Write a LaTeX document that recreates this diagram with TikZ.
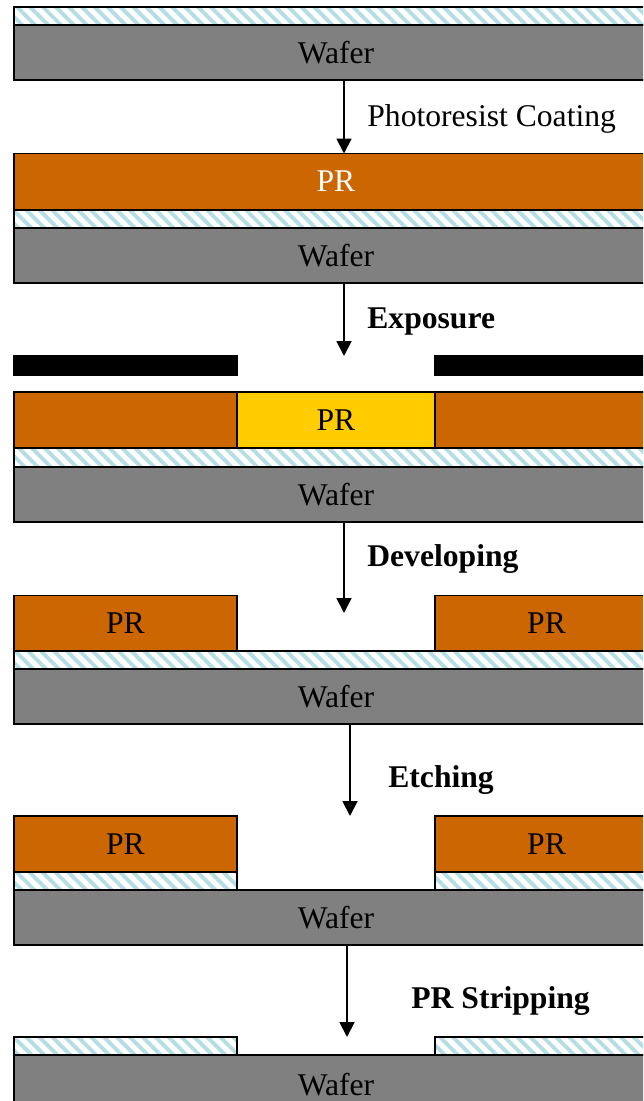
\documentclass[tikz,border=0pt]{standalone}
\usepackage{fontspec}
\setmainfont{Liberation Serif}
\usepackage{tikz}
\usetikzlibrary{calc,arrows.meta,patterns.meta}
\definecolor{prOrange}{RGB}{204,102,0}
\definecolor{prExposed}{RGB}{255,204,0}
\definecolor{filmBlue}{RGB}{180,222,228}
\definecolor{waferGray}{RGB}{128,128,128}
\newcommand\stepfont{\fontsize{18}{20}\selectfont}
\tikzstyle{layer}=[rectangle,draw=black,line width=1.1pt,inner sep=0pt,outer sep=0pt,
                   font=\stepfont]
\tikzstyle{widelayer}=[minimum width=12.88cm]
\tikzstyle{sidelayer}=[minimum width=4.46cm]
\tikzstyle{midlayer}=[minimum width=3.96cm]
\tikzstyle{wafer}=[layer,widelayer,fill=waferGray,minimum height=1.1cm]
\tikzstyle{film}=[layer,minimum height=0.36cm,pattern color=filmBlue,
                  pattern={Lines[angle=-45,distance=5.2pt,line width=2.2pt]}]
\tikzstyle{resist}=[layer,fill=prOrange,minimum height=1.12cm]
\tikzstyle{exposed}=[layer,fill=prExposed,minimum height=1.12cm]
\tikzstyle{maskbar}=[layer,fill=black,minimum height=0.38cm]
\tikzstyle{flow}=[-{Triangle[length=8.5pt,width=8.5pt]},line width=1.1pt]
\tikzstyle{steplabel}=[anchor=base west,inner sep=0pt,font=\stepfont\bfseries]

\begin{document}
\begin{tikzpicture}[x=0.02cm,y=-0.02cm]
	\useasboundingbox (0,0) rectangle (643,1101);
	\clip (0,0) rectangle (643,1101);

	% bare wafer with film
	\node [film,widelayer] (Film1) at (336,16) {};
	\node [wafer] (Wafer1) at (336,52.5) {Wafer};

	% coating
	\node [resist,widelayer,text=white] (Resist2) at (336,181.5) {PR};
	\node [film,widelayer] (Film2) at (336,219) {};
	\node [wafer] (Wafer2) at (336,255.5) {Wafer};
	\draw [flow] ($(Wafer1.south)+(8,0)$) -- ($(Resist2.north)+(8,0)$);
	\node [steplabel,font=\stepfont] (Coating) at (367,127) {Photoresist Coating};

	% exposure through the mask
	\node [maskbar,sidelayer] (MaskL) at (125.5,365.5) {};
	\node [maskbar,sidelayer] (MaskR) at (546.5,365.5) {};
	\node [resist,sidelayer] (ResistL3) at (125.5,420) {};
	\node [exposed,midlayer] (Exposed3) at (336,420) {PR};
	\node [resist,sidelayer] (ResistR3) at (546.5,420) {};
	\node [film,widelayer] (Film3) at (336,457.5) {};
	\node [wafer] (Wafer3) at (336,494.5) {Wafer};
	\draw [flow] ($(Wafer2.south)+(8,0)$) -- ($(MaskL.north -| Wafer2.south)+(8,0)$);
	\node [steplabel] (Exposure) at (367,328) {Exposure};

	% developing
	\node [resist,sidelayer] (ResistL4) at (125.5,623.5) {PR};
	\node [resist,sidelayer] (ResistR4) at (546.5,623.5) {PR};
	\node [film,widelayer] (Film4) at (336,660) {};
	\node [wafer] (Wafer4) at (336,696.5) {Wafer};
	\coordinate (DevTip) at (344,613);
	\draw [flow] ($(Wafer3.south)+(8,0)$) -- (DevTip);
	\node [steplabel] (Developing) at (367,566) {Developing};

	% etching
	\node [resist,sidelayer] (ResistL5) at (125.5,844) {PR};
	\node [resist,sidelayer] (ResistR5) at (546.5,844) {PR};
	\node [film,sidelayer] (FilmL5) at (125.5,881) {};
	\node [film,sidelayer] (FilmR5) at (546.5,881) {};
	\node [wafer] (Wafer5) at (336,917.5) {Wafer};
	\draw [flow] ($(Wafer4.south)+(14,0)$) -- ($(ResistL5.north -| Wafer4.south)+(14,0)$);
	\node [steplabel] (Etching) at (388,787) {Etching};

	% stripping
	\node [film,sidelayer] (FilmL6) at (125.5,1046) {};
	\node [film,sidelayer] (FilmR6) at (546.5,1046) {};
	\node [wafer,minimum height=1.2cm] (Wafer6) at (336,1085) {Wafer};
	\draw [flow] ($(Wafer5.south)+(11,0)$) -- ($(FilmL6.north -| Wafer5.south)+(11,0)$);
	\node [steplabel] (Stripping) at (411,1008) {PR Stripping};
\end{tikzpicture}
\end{document}
